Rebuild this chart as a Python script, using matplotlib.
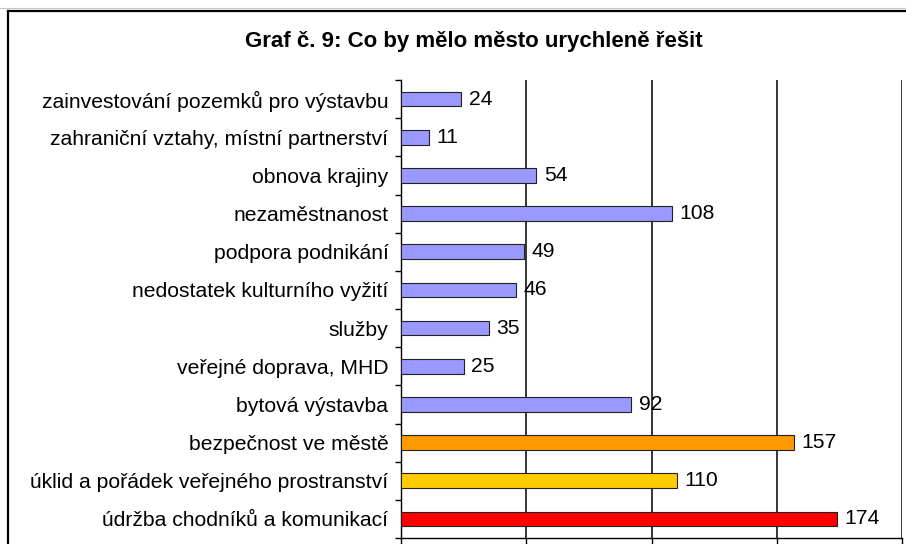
import matplotlib.pyplot as plt
import numpy as np
from matplotlib.lines import Line2D

plt.rcParams['font.family'] = ['Liberation Sans', 'DejaVu Sans']

categories = [
    'zainvestování pozemků pro výstavbu',
    'zahraniční vztahy, místní partnerství',
    'obnova krajiny',
    'nezaměstnanost',
    'podpora podnikání',
    'nedostatek kulturního vyžití',
    'služby',
    'veřejné doprava, MHD',
    'bytová výstavba',
    'bezpečnost ve městě',
    'úklid a pořádek veřejného prostranství',
    'údržba chodníků a komunikací',
]
values = [24, 11, 54, 108, 49, 46, 35, 25, 92, 157, 110, 174]
colors = ['#9999FF'] * 9 + ['#FF9900', '#FFCC00', '#FF0000']
xticks = [0, 50, 100, 150, 200]

fs = 15.2
W, H = 906, 544

fig = plt.figure(figsize=(W / 100, H / 100), dpi=100)
ax = fig.add_axes([401 / W, 6 / H, (902 - 401) / W, (538 - 80) / H])

y = np.arange(len(categories))
ax.barh(y, values, height=0.38, color=colors, edgecolor='#222222', linewidth=0.8, zorder=3)
for yi, v in zip(y, values):
    ax.text(v + 3, yi, str(v), va='center', ha='left', fontsize=fs, zorder=4)

ax.set_xlim(0, 200)
ax.set_ylim(len(categories) - 0.5, -0.5)
ax.set_xticks(xticks)
ax.set_yticks(y)
ax.set_yticklabels(categories, fontsize=fs)
ax.tick_params(axis='y', which='major', length=0, pad=9)
ax.set_yticks(np.arange(len(categories) + 1) - 0.5, minor=True)
ax.tick_params(axis='y', which='minor', length=4, width=1, direction='out')
ax.tick_params(axis='x', length=5, width=1, direction='out', labelbottom=False)
ax.grid(axis='x', color='black', linewidth=1.1, zorder=0)
ax.spines['top'].set_visible(False)
ax.spines['right'].set_visible(False)
ax.spines['left'].set_linewidth(1)
ax.spines['bottom'].set_linewidth(1)

# outer chart frame
fig.add_artist(Line2D([7.5 / W, 7.5 / W], [-0.1, 1 - 10.5 / H], color='black', linewidth=1.6))
fig.add_artist(Line2D([7.5 / W, 1.1], [1 - 10.5 / H, 1 - 10.5 / H], color='black', linewidth=1.6))
fig.add_artist(Line2D([0, 1], [1 - 8 / H, 1 - 8 / H], color='#c8c8c8', linewidth=0.8))

fig.text(474 / W, 1 - 42 / H, 'Graf č. 9: Co by mělo město urychleně řešit',
         ha='center', va='center', fontsize=16, fontweight='bold')

fig.savefig('out.png', dpi=100)
